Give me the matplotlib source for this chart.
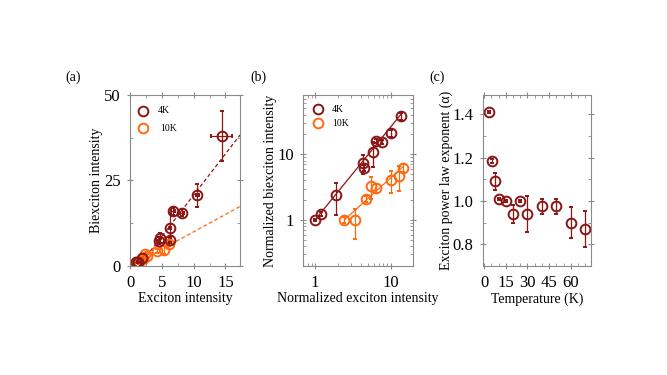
import numpy as np
import matplotlib.pyplot as plt
from matplotlib.ticker import AutoMinorLocator, NullFormatter
from matplotlib import rcParams
rcParams['font.family'] = 'Liberation Serif'

c4 = '#8c1515'
c10 = '#ff6a10'
grey = '#8a8a8a'

# (a) raw intensities
a4_x = [1.0, 1.2, 1.9, 4.5, 4.7, 6.3, 6.3, 6.8, 8.1, 10.6, 14.4]
a4_y = [1.0, 1.25, 2.4, 7.3, 8.1, 11.0, 7.7, 15.9, 15.6, 20.6, 38.0]
a4_yerr = [0.2, 0.3, 0.5, 1.0, 1.5, 4.4, 0.8, 1.0, 1.0, 3.3, 7.2]
a4_xerr = [0.1, 0.1, 0.1, 0.2, 0.2, 0.2, 0.2, 0.3, 0.3, 0.3, 1.6]
a10_x = [1.0, 1.4, 2.0, 2.3, 2.7, 4.2, 5.4, 6.1]
a10_y = [1.0, 1.0, 2.1, 3.4, 3.0, 4.3, 4.7, 6.3]
a10_yerr = [0.2, 0.4, 0.2, 0.5, 0.4, 0.5, 1.2, 0.6]
fit_a4_x = [1.4, 17.3]
fit_a4_y = [0.0, 38.3]
fit_a10_x = [1.2, 17.3]
fit_a10_y = [1.0, 17.4]

# (b) normalized
b4_x = [1.0, 1.2, 1.89, 4.35, 4.48, 5.89, 6.4, 7.6, 10.1, 13.7]
b4_y = [1.0, 1.24, 2.41, 7.36, 6.25, 10.8, 15.8, 15.4, 20.8, 38.2]
b4_yerr = [0.05, 0.1, 1.2, 2.3, 0.6, 4.3, 1.0, 1.0, 2.2, 4.5]
b10_x = [2.44, 3.38, 4.72, 5.43, 6.4, 10.0, 12.9, 14.7]
b10_y = [1.0, 1.0, 2.1, 3.3, 3.05, 4.1, 4.65, 6.25]
b10_yerr = [0.1, 0.48, 0.2, 1.2, 0.5, 1.5, 1.9, 0.9]
fit_b4_x = [1.0, 14.0]
fit_b4_y = [1.0, 42.0]
fit_b10_x = [2.44, 14.7]
fit_b10_y = [1.0, 6.55]

# (c) exponent vs temperature
temp = [3.5, 5.5, 7.5, 10, 15, 20, 25, 30, 40, 50, 60, 70]
alpha = [1.41, 1.185, 1.09, 1.01, 1.0, 0.94, 1.0, 0.94, 0.975, 0.975, 0.90, 0.87]
alpha_err = [0.005, 0.01, 0.04, 0.005, 0.005, 0.04, 0.005, 0.083, 0.035, 0.035, 0.07, 0.085]

fig = plt.figure(figsize=(6.67, 3.75), dpi=100)
axa = fig.add_axes([0.195, 0.291, 0.165, 0.456])
axb = fig.add_axes([0.454, 0.291, 0.165, 0.456])
axc = fig.add_axes([0.7237, 0.291, 0.1624, 0.456])

mk = dict(fmt='o', ms=7, mfc='none', mew=1.4, elinewidth=0.9, capsize=1.5, capthick=0.9)
lg = dict(ms=7, mfc='none', mew=1.4)

# (a)
axa.plot(fit_a4_x, fit_a4_y, ls=(0, (3, 2)), lw=0.9, color=c4, zorder=1)
axa.plot(fit_a10_x, fit_a10_y, ls=(0, (3, 2)), lw=0.9, color=c10, zorder=1)
axa.errorbar(a10_x, a10_y, yerr=a10_yerr, color=c10, **mk)
axa.errorbar(a4_x, a4_y, yerr=a4_yerr, xerr=a4_xerr, color=c4, **mk)
axa.set_xlim(0, 17.3)
axa.set_ylim(0, 50)
axa.set_xticks([0, 5, 10, 15])
axa.set_yticks([0, 25, 50])
axa.xaxis.set_minor_locator(AutoMinorLocator(2))
axa.yaxis.set_minor_locator(AutoMinorLocator(2))
axa.set_xlabel('Exciton intensity', fontsize=10, labelpad=1)
axa.set_ylabel('Biexciton intensity', fontsize=10, labelpad=1)
axa.plot([2.0], [45.4], 'o', color=c4, **lg)
axa.plot([2.0], [40.3], 'o', color=c10, **lg)
axa.text(4.4, 45.4, '4K', fontsize=7, va='center')
axa.text(4.8, 40.3, '10K', fontsize=7, va='center')

# (b)
axb.set_xscale('log')
axb.set_yscale('log')
axb.plot(fit_b4_x, fit_b4_y, lw=0.9, color=c4, zorder=1)
axb.plot(fit_b10_x, fit_b10_y, lw=0.9, color=c10, zorder=1)
axb.errorbar(b4_x, b4_y, yerr=b4_yerr, color=c4, **mk)
axb.errorbar(b10_x, b10_y, yerr=b10_yerr, color=c10, **mk)
axb.set_xlim(0.69, 19.6)
axb.set_ylim(0.2, 80)
axb.set_xticks([1, 10])
axb.set_xticklabels(['1', '10'])
axb.set_yticks([1, 10])
axb.set_yticklabels(['1', '10'])
axb.xaxis.set_minor_formatter(NullFormatter())
axb.yaxis.set_minor_formatter(NullFormatter())
axb.set_xlabel('Normalized exciton intensity', fontsize=10, labelpad=1)
axb.set_ylabel('Normalized biexciton intensity', fontsize=10, labelpad=0)
axb.plot([1.1], [48], 'o', color=c4, **lg)
axb.plot([1.1], [29.5], 'o', color=c10, **lg)
axb.text(1.68, 48, '4K', fontsize=7, va='center')
axb.text(1.68, 29.5, '10K', fontsize=7, va='center')

# (c)
axc.errorbar(temp, alpha, yerr=alpha_err, color=c4, **mk)
axc.set_xlim(-1, 74)
axc.set_ylim(0.7, 1.49)
axc.set_xticks([0, 15, 30, 45, 60])
axc.set_yticks([0.8, 1.0, 1.2, 1.4])
axc.set_yticklabels(['0.8', '1.0', '1.2', '1.4'])
axc.xaxis.set_minor_locator(AutoMinorLocator(3))
axc.yaxis.set_minor_locator(AutoMinorLocator(2))
axc.set_xlabel('Temperature (K)', fontsize=10, labelpad=1)
axc.set_ylabel('Exciton power law exponent (α)', fontsize=10, labelpad=0)

for ax in (axa, axb, axc):
    for s in ax.spines.values():
        s.set_color(grey)
        s.set_linewidth(0.8)
    ax.tick_params(which='both', top=True, right=True, color=grey, labelsize=12)
    ax.tick_params(which='major', direction='inout', length=5, pad=4)
    ax.tick_params(which='minor', direction='in', length=2)

fig.text(0.098, 0.785, '(a)', fontsize=10)
fig.text(0.375, 0.785, '(b)', fontsize=10)
fig.text(0.643, 0.785, '(c)', fontsize=10)

fig.savefig('out.png', dpi=100)
